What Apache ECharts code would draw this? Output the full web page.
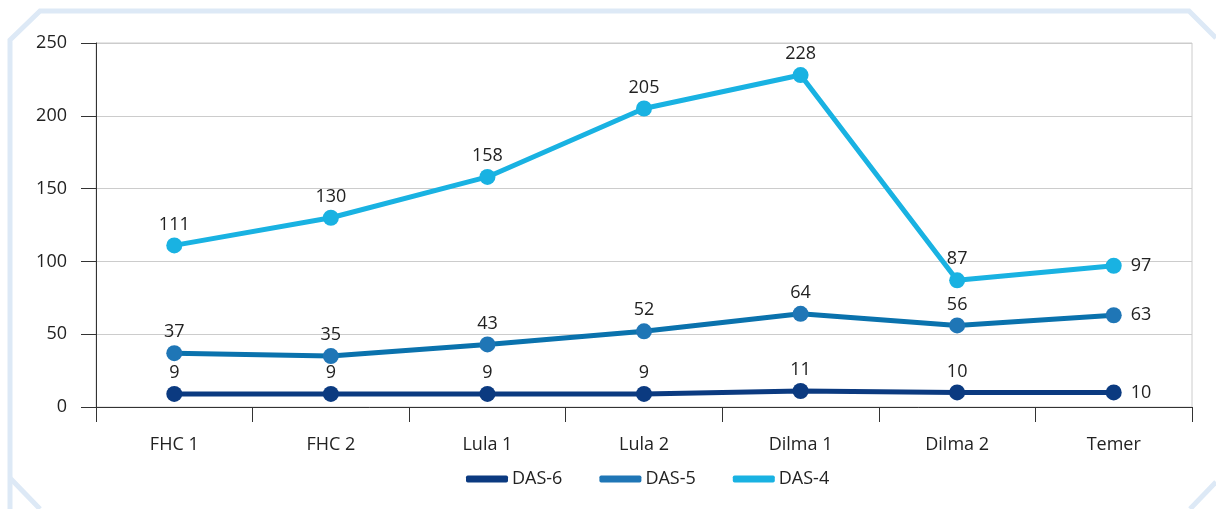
<!DOCTYPE html>
<html><head><meta charset="utf-8">
<script src="https://cdn.jsdelivr.net/npm/echarts@6/dist/echarts.min.js"></script>
<style>html,body{margin:0;padding:0;background:#fff}#c{width:1216px;height:509px}</style>
</head><body><div id="c"></div>
<script>
const categories = ['FHC 1','FHC 2','Lula 1','Lula 2','Dilma 1','Dilma 2','Temer'];
const das6 = [9, 9, 9, 9, 11, 10, 10];
const das5 = [37, 35, 43, 52, 64, 56, 63];
const das4 = [111, 130, 158, 205, 228, 87, 97];
const yTicks = [0, 50, 100, 150, 200, 250];

const chart = echarts.init(document.getElementById('c'));
const font = 'Myriad Pro, "Open Sans", "Noto Sans", sans-serif';
const fs = 18;
function mk(name, data, color, mcolor) {
  return {
    name, type: 'line', data,
    symbol: 'circle', symbolSize: 16,
    lineStyle: { width: 5, color },
    itemStyle: { color: mcolor },
    label: {
      show: true, position: 'top', distance: 4,
      color: '#222', fontSize: fs, fontFamily: font,
      formatter: p => p.dataIndex === data.length - 1 ? '' : p.value
    },
    endLabel: { show: true, color: '#222', fontSize: fs, fontFamily: font, distance: 17, formatter: p => p.value },
    animation: false, z: 3
  };
}
chart.setOption({
  animation: false,
  grid: { left: 96, right: 24, top: 43, bottom: 102, show: true, borderColor: '#ccc', borderWidth: 1 },
  legend: {
    top: 465, left: 461, itemWidth: 42, itemHeight: 7, itemGap: 37,
    textStyle: { color: '#222', fontSize: fs, fontFamily: font, padding: [0, 0, 0, -1] },
    icon: 'roundRect',
    data: ['DAS-6', 'DAS-5', 'DAS-4']
  },
  xAxis: {
    type: 'category', data: categories, boundaryGap: true,
    axisLine: { lineStyle: { color: '#333', width: 1 } },
    axisTick: { show: true, length: 15, inside: false, lineStyle: { color: '#333' } },
    axisLabel: { color: '#222', fontSize: fs, fontFamily: font, margin: 29 }
  },
  yAxis: {
    type: 'value', min: yTicks[0], max: yTicks[yTicks.length - 1], interval: 50,
    axisLine: { show: true, lineStyle: { color: '#333' } },
    axisTick: { show: true, length: 15, lineStyle: { color: '#333' } },
    splitLine: { lineStyle: { color: '#ccc' } },
    axisLabel: { color: '#222', fontSize: fs, fontFamily: font, margin: 29, align: 'right' }
  },
  series: [
    mk('DAS-6', das6, '#0b3a80', '#0b3a80'),
    mk('DAS-5', das5, '#0a72ad', '#1f76b6'),
    mk('DAS-4', das4, '#19b2e2', '#19b2e2')
  ],
  graphic: [{
    type: 'polyline', silent: true, z: -1,
    shape: { points: [[10, 509], [10, 40], [40, 11], [1189, 11], [1216, 38]] },
    style: { stroke: '#dde9f6', lineWidth: 5, fill: null }
  }, {
    type: 'polyline', silent: true, z: -1,
    shape: { points: [[10, 478], [40, 509]] },
    style: { stroke: '#dde9f6', lineWidth: 5, fill: null }
  }, {
    type: 'polyline', silent: true, z: -1,
    shape: { points: [[1216, 482], [1190, 509]] },
    style: { stroke: '#dde9f6', lineWidth: 5, fill: null }
  }]
});
</script></body></html>
